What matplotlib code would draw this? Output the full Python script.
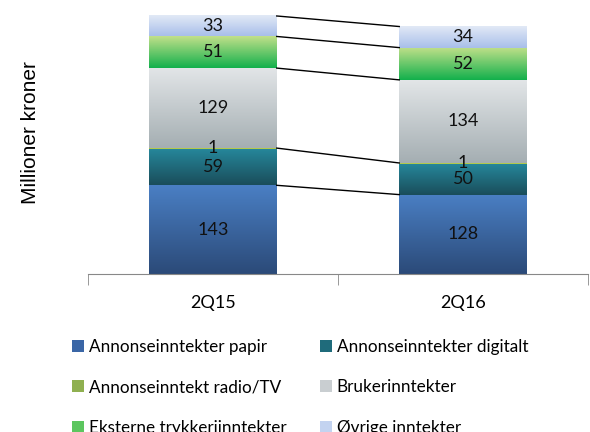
import matplotlib
matplotlib.use("Agg")
import matplotlib.pyplot as plt
import numpy as np
from matplotlib.colors import LinearSegmentedColormap
from matplotlib.patches import Patch

categories = ["2Q15", "2Q16"]
series_names = ["Annonseinntekter papir", "Annonseinntekter digitalt",
                "Annonseinntekt radio/TV", "Brukerinntekter",
                "Eksterne trykkeriinntekter", "Øvrige inntekter"]
papir = [143, 128]
digitalt = [59, 50]
radio_tv = [1, 1]
bruker = [129, 134]
trykkeri = [51, 52]
ovrige = [33, 34]
series_values = [papir, digitalt, radio_tv, bruker, trykkeri, ovrige]

# (top colour, bottom colour) for vertical gradients
grad_colors = [("#4a7fc4", "#2b4a78"),
               ("#26889c", "#1a4d5a"),
               ("#c8d84a", "#8fb050"),
               ("#e3e6e8", "#a4aeb2"),
               ("#c2e08a", "#12b04c"),
               ("#e2e9f6", "#a8bfea")]
legend_colors = ["#3a66a6", "#1f6b7b", "#8fb050", "#c9ced1", "#5cc65f", "#c3d3f0"]

plt.rcParams['font.family'] = ['Lato', 'DejaVu Sans']

fig = plt.figure(figsize=(5.9, 4.32), dpi=100)
ax = fig.add_axes([88/590, 1-274/432, 500/590, 260.5/432])

x = np.arange(len(categories))
width = 0.51
bottom = np.zeros(len(categories))
tops = []
for vals, (ctop, cbot) in zip(series_values, grad_colors):
    bars = ax.bar(x, vals, width, bottom=bottom, color="none", edgecolor="none")
    cmap = LinearSegmentedColormap.from_list("g", [cbot, ctop])
    grad = np.linspace(0, 1, 256).reshape(-1, 1)
    for b, v in zip(bars, vals):
        x0, y0 = b.get_x(), b.get_y()
        ax.imshow(grad, extent=[x0, x0 + b.get_width(), y0, y0 + b.get_height()],
                  origin="lower", aspect="auto", cmap=cmap, zorder=1)
        ax.text(x0 + b.get_width()/2, y0 + b.get_height()/2, str(v),
                ha="center", va="center", fontsize=13, color="#111111", zorder=3)
    bottom = bottom + np.array(vals)
    tops.append(bottom.copy())

# connector lines
for i in [0, 2, 3, 4, 5]:
    ax.plot([x[0] + width/2, x[1] - width/2], [tops[i][0], tops[i][1]],
            color="black", lw=1.0, zorder=2)

ax.set_xlim(-0.5, 1.5)
ax.set_ylim(0, 420)
for s in ["top", "right", "left"]:
    ax.spines[s].set_visible(False)
ax.spines["bottom"].set_color("#888888")
ax.set_yticks([])
ax.set_xticks(x)
ax.set_xticklabels(categories, fontsize=13)
ax.tick_params(axis="x", which="major", length=0, pad=15)
ax.set_xticks([-0.5, 0.5, 1.5], minor=True)
ax.tick_params(axis="x", which="minor", length=8, color="#888888")

fig.text(30/590, 1-133/432, "Millioner kroner", rotation=90, ha="center", va="center",
         fontsize=15, family=["Liberation Sans"])

order = [0, 2, 4, 1, 3, 5]
handles = [Patch(facecolor=legend_colors[i], edgecolor="none") for i in order]
labels = [series_names[i] for i in order]
fig.legend(handles, labels, ncol=2, loc="upper left",
           bbox_to_anchor=(63/590, 1-330/432), frameon=False, fontsize=12.3,
           handlelength=0.7, handleheight=0.7, handletextpad=0.3,
           labelspacing=1.45, columnspacing=1.95, borderpad=0)

fig.savefig("out.png", dpi=100)
